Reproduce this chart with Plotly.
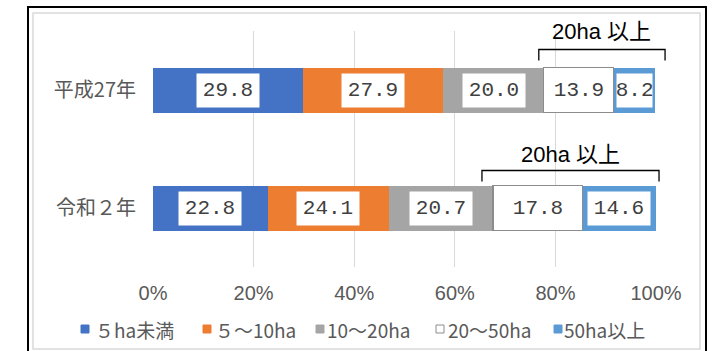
import plotly.graph_objects as go

categories = ["平成27年", "令和２年"]
series_names = ["５ha未満", "５～10ha", "10～20ha", "20～50ha", "50ha以上"]
values = {
    "５ha未満": [29.8, 22.8],
    "５～10ha": [27.9, 24.1],
    "10～20ha": [20.0, 20.7],
    "20～50ha": [13.9, 17.8],
    "50ha以上": [8.2, 14.6],
}
tick_vals = [0, 20, 40, 60, 80, 100]
tick_text = ["0%", "20%", "40%", "60%", "80%", "100%"]
bracket_label = "20ha 以上"

colors = ["#4472C4", "#ED7D31", "#A5A5A5", "#FFFFFF", "#5B9BD5"]
line_colors = [None, None, None, "#8C8C8C", None]

W, H = 726, 351
L, R, T, B = 153, 70, 31, 84
plot_w = W - L - R
plot_h = H - T - B

CJK = "Noto Sans CJK JP"
SANS = "Liberation Sans, Arial, Noto Sans CJK JP, sans-serif"
MONO = "Liberation Mono, DejaVu Sans Mono, monospace"

fig = go.Figure()
for name, col, lc in zip(series_names, colors, line_colors):
    fig.add_trace(go.Bar(
        y=list(range(len(categories))),
        x=values[name],
        name=name,
        orientation="h",
        marker=dict(color=col, line=dict(color=lc or col, width=1.2 if lc else 0)),
        hoverinfo="skip",
        showlegend=False,
    ))

def px2paper_x(p):
    return (p - L) / plot_w

def px2paper_y(p):
    return (H - B - p) / plot_h

# data labels with white boxes
annotations = []
for ci in range(len(categories)):
    cum = 0.0
    for name in series_names:
        v = values[name][ci]
        mid = cum + v / 2
        seg_px = v / 100 * plot_w
        bw = min(62, seg_px - 6)
        annotations.append(dict(
            x=mid, y=ci, xref="x", yref="y", text=f"{v:.1f}", showarrow=False,
            xanchor="center", yanchor="middle",
            bgcolor="white", width=bw, height=33, borderpad=0,
            font=dict(family=MONO, size=21, color="#404040"),
        ))
        cum += v

# brackets over the 20ha-and-above segments (paper coords so they are not clipped)
n = len(categories)
px_per_cat = plot_h / n
bracket_cfg = [
    dict(left_off=-1.0, right=101.8, line=-40.5, tick=-29.5, text=-58.5),
    dict(left_off=-2.2, right=100.6, line=-37.5, tick=-26.5, text=-53.5),
]
shapes = []
for ci, cfg in enumerate(bracket_cfg):
    start = (sum(values[nm][ci] for nm in series_names[:3]) + cfg["left_off"]) / 100
    end = cfg["right"] / 100
    yc = 1 - (ci + 0.5) / n
    yl = yc - cfg["line"] / plot_h
    yt = yc - cfg["tick"] / plot_h
    shapes.append(dict(type="path", xref="paper", yref="paper",
                       path=f"M {start},{yt} L {start},{yl} L {end},{yl} L {end},{yt}",
                       line=dict(color="black", width=1.3)))
    annotations.append(dict(x=(start + end) / 2, y=yc - cfg["text"] / plot_h,
                            xref="paper", yref="paper", xanchor="center", yanchor="middle",
                            text=bracket_label, showarrow=False,
                            font=dict(family=SANS, size=22, color="black")))

# legend drawn as markers + text (Excel-style compact legend)
legend_marker_x = [85, 207, 320, 440, 558]
legend_text_x = [93, 213, 325, 446, 562]
legend_y = 329
for name, col, lc, mx, tx in zip(series_names, colors, line_colors, legend_marker_x, legend_text_x):
    shapes.append(dict(type="rect", xref="paper", yref="paper",
                       x0=px2paper_x(mx - 4), x1=px2paper_x(mx + 4),
                       y0=px2paper_y(legend_y + 4), y1=px2paper_y(legend_y - 4),
                       fillcolor=col, line=dict(color=lc or col, width=1)))
    annotations.append(dict(x=px2paper_x(tx), y=px2paper_y(legend_y), xref="paper", yref="paper",
                            xanchor="left", yanchor="middle", text=name, showarrow=False,
                            font=dict(family=CJK, size=19, color="#595959")))

# inner light-grey chart border and outer black frame
shapes.append(dict(type="rect", xref="paper", yref="paper",
                   x0=px2paper_x(33), x1=px2paper_x(700), y0=px2paper_y(349), y1=px2paper_y(13),
                   line=dict(color="#D9D9D9", width=1.5), layer="below"))
shapes.append(dict(type="rect", xref="paper", yref="paper",
                   x0=px2paper_x(28), x1=px2paper_x(706), y0=px2paper_y(370), y1=px2paper_y(7),
                   line=dict(color="black", width=2), layer="below"))

fig.update_layout(
    width=W, height=H,
    margin=dict(l=L, r=R, t=T, b=B, autoexpand=False),
    barmode="stack",
    bargap=1 - 45 / px_per_cat,
    plot_bgcolor="white",
    paper_bgcolor="white",
    showlegend=False,
    xaxis=dict(range=[0, 100], tickvals=tick_vals, ticktext=tick_text,
               showgrid=True, gridcolor="#D9D9D9", gridwidth=1.2, zeroline=False,
               showline=False, ticks="", ticklabelstandoff=12,
               tickfont=dict(family=SANS, size=20, color="#595959"), fixedrange=True),
    yaxis=dict(range=[n - 0.5, -0.5], tickvals=list(range(n)),
               ticktext=categories, showgrid=False, zeroline=False, showline=False,
               ticks="", ticklabelstandoff=16,
               tickfont=dict(family=CJK, size=20, color="#595959"), fixedrange=True),
    annotations=annotations,
    shapes=shapes,
)

fig.write_html("out.html", config={"displayModeBar": False})
